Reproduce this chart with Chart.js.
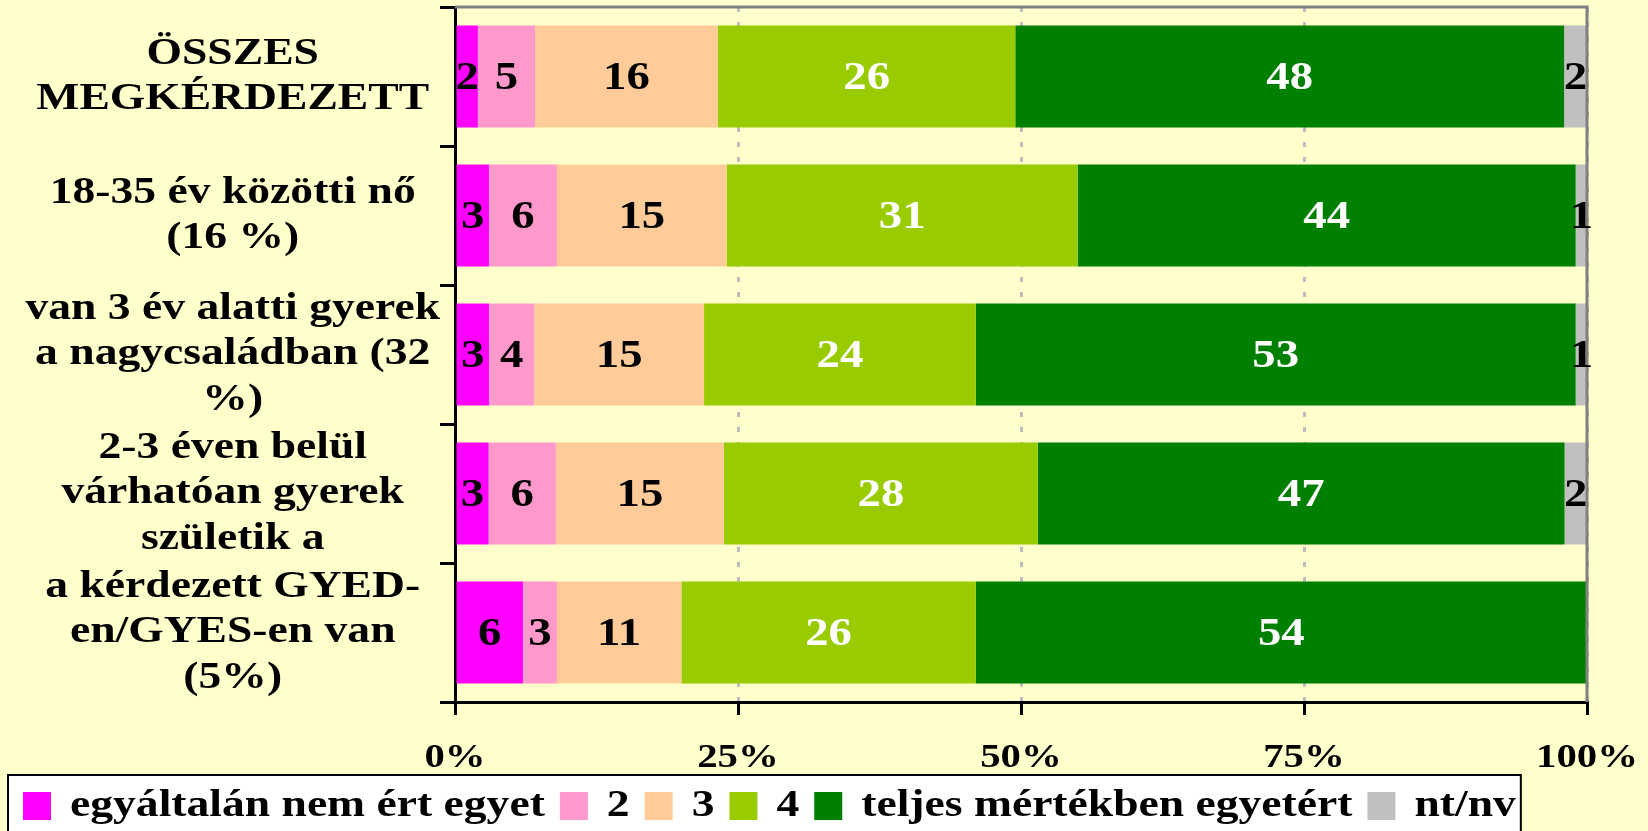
<!DOCTYPE html>
<html lang="hu">
<head>
    <meta charset="UTF-8">
    <title>Egyetértés – 100%-os halmozott sávdiagram</title>
    <script src="https://cdn.jsdelivr.net/npm/chart.js"></script>
    <style>
        html, body { margin: 0; padding: 0; background: #FFFFCC; }
        canvas { display: block; }
    </style>
</head>
<body>
    <canvas id="chart" width="1648" height="831"></canvas>

    <script>
        // categories (rows, top to bottom)
        const categories = [
            ['ÖSSZES', 'MEGKÉRDEZETT'],
            ['18-35 év közötti nő', '(16 %)'],
            ['van 3 év alatti gyerek', 'a nagycsaládban (32', '%)'],
            ['2-3 éven belül', 'várhatóan gyerek', 'születik a'],
            ['a kérdezett GYED-', 'en/GYES-en van', '(5%)']
        ];

        // series values, one per row
        const notAgree   = [2, 3, 3, 3, 6];
        const two        = [5, 6, 4, 6, 3];
        const three      = [16, 15, 15, 15, 11];
        const four       = [26, 31, 24, 28, 26];
        const fullyAgree = [48, 44, 53, 47, 54];
        const noAnswer   = [2, 1, 1, 2, 0];

        const seriesNames = ['egyáltalán nem ért egyet', '2', '3', '4', 'teljes mértékben egyetért', 'nt/nv'];
        const seriesColors = ['#FF00FF', '#FF99CC', '#FFCC99', '#99CC00', '#008000', '#C0C0C0'];
        const labelColors = ['#000000', '#000000', '#000000', '#FFFFFF', '#FFFFFF', '#000000'];
        const xTicks = [0, 25, 50, 75, 100];

        const series = [notAgree, two, three, four, fullyAgree, noAnswer];
        const rowSums = categories.map((_, r) => series.reduce((s, arr) => s + arr[r], 0));

        const FONT = '"Liberation Serif", "Times New Roman", serif';
        const STRETCH = 1.2; // the original lettering is wide, stretch text horizontally

        const canvas = document.getElementById('chart');
        const ctx = canvas.getContext('2d');
        const rawFill = ctx.fillText.bind(ctx);
        const rawMeasure = ctx.measureText.bind(ctx);
        ctx.fillText = function (text, x, y) {
            this.save();
            this.translate(x, y);
            this.scale(STRETCH, 1);
            rawFill(text, 0, 0);
            this.restore();
        };
        ctx.measureText = function (text) {
            const m = rawMeasure(text);
            return {
                width: m.width * STRETCH,
                actualBoundingBoxAscent: m.actualBoundingBoxAscent,
                actualBoundingBoxDescent: m.actualBoundingBoxDescent,
                actualBoundingBoxLeft: m.actualBoundingBoxLeft * STRETCH,
                actualBoundingBoxRight: m.actualBoundingBoxRight * STRETCH
            };
        };

        // white legend box and grey frame on top / right of the plot
        const frame = {
            id: 'frame',
            beforeDraw(chart) {
                const lg = chart.legend;
                const boxes = lg.legendHitBoxes;
                const last = boxes[boxes.length - 1];
                const c = chart.ctx;
                c.save();
                c.fillStyle = '#FFFFFF';
                c.strokeStyle = '#000000';
                c.lineWidth = 2;
                const right = last.left + last.width + 5;
                c.fillRect(lg.left, lg.top + 3, right - lg.left, 100);
                c.strokeRect(lg.left, lg.top + 3, right - lg.left, 100);
                c.restore();
            },
            afterDatasetsDraw(chart) {
                const a = chart.chartArea;
                const c = chart.ctx;
                c.save();
                c.strokeStyle = '#808080';
                c.lineWidth = 3;
                c.beginPath();
                c.moveTo(a.left, a.top);
                c.lineTo(a.right, a.top);
                c.lineTo(a.right, a.bottom);
                c.stroke();
                c.restore();
            }
        };

        // value labels in the middle of each segment
        const barLabels = {
            id: 'barLabels',
            afterDatasetsDraw(chart) {
                const c = chart.ctx;
                c.save();
                c.font = 'bold 39px ' + FONT;
                c.textAlign = 'center';
                c.textBaseline = 'middle';
                series.forEach((arr, i) => {
                    chart.getDatasetMeta(i).data.forEach((bar, j) => {
                        if (!arr[j]) return;
                        const p = bar.getProps(['x', 'base', 'y'], true);
                        c.fillStyle = labelColors[i];
                        c.fillText(String(arr[j]), (p.x + p.base) / 2, p.y + 2);
                    });
                });
                c.restore();
            }
        };

        new Chart(ctx, {
            type: 'bar',
            data: {
                labels: categories,
                datasets: series.map((arr, i) => ({
                    label: seriesNames[i],
                    data: arr.map((v, r) => v / rowSums[r] * 100),
                    backgroundColor: seriesColors[i],
                    borderWidth: 0,
                    barPercentage: 0.735,
                    categoryPercentage: 1
                }))
            },
            options: {
                indexAxis: 'y',
                responsive: false,
                animation: false,
                devicePixelRatio: 1,
                layout: { padding: { left: 8, right: 61, top: 7, bottom: -4 } },
                plugins: {
                    legend: {
                        position: 'bottom',
                        align: 'start',
                        labels: {
                            boxWidth: 28,
                            boxHeight: 28,
                            padding: 15,
                            color: '#000000',
                            font: { family: FONT, size: 38, weight: 'bold' }
                        }
                    },
                    tooltip: { enabled: false }
                },
                scales: {
                    x: {
                        stacked: true,
                        min: 0,
                        max: 100,
                        afterBuildTicks(scale) {
                            scale.ticks = xTicks.map(v => ({ value: v }));
                        },
                        afterFit(scale) {
                            scale.height = 70;
                            scale.paddingLeft = 0;
                            scale.paddingRight = 0;
                        },
                        ticks: {
                            padding: 26,
                            color: '#000000',
                            font: { family: FONT, size: 34, weight: 'bold', lineHeight: 1 },
                            callback: v => v + '%'
                        },
                        grid: {
                            color: '#BDBDBD',
                            lineWidth: 3,
                            tickColor: '#000000',
                            tickWidth: 3,
                            tickLength: 13,
                            tickBorderDash: []
                        },
                        border: { color: '#000000', width: 3, dash: [5, 10] }
                    },
                    y: {
                        stacked: true,
                        afterFit(scale) {
                            scale.width = 447;
                            scale.paddingTop = 0;
                            scale.paddingBottom = 0;
                        },
                        ticks: {
                            autoSkip: false,
                            padding: 0,
                            crossAlign: 'center',
                            color: '#000000',
                            font: { family: FONT, size: 38, weight: 'bold', lineHeight: 1.2 }
                        },
                        grid: {
                            offset: true,
                            drawOnChartArea: false,
                            tickColor: '#000000',
                            tickWidth: 3,
                            tickLength: 15
                        },
                        border: { color: '#000000', width: 3 }
                    }
                }
            },
            plugins: [frame, barLabels]
        });
    </script>
</body>
</html>
